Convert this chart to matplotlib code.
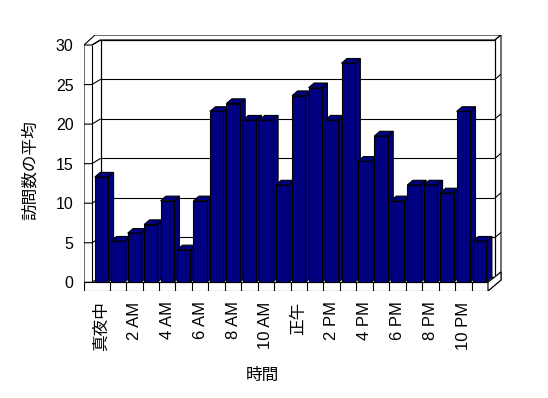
import matplotlib
matplotlib.use('Agg')
import matplotlib.pyplot as plt
from matplotlib.patches import Polygon, Rectangle

plt.rcParams['font.family'] = ['Liberation Sans', 'Noto Sans CJK JP', 'DejaVu Sans']

# ---- data ----
tick_labels = ['真夜中', '2 AM', '4 AM', '6 AM', '8 AM', '10 AM',
               '正午', '2 PM', '4 PM', '6 PM', '8 PM', '10 PM']
values = [13.3, 5.2, 6.2, 7.3, 10.3, 4.1, 10.3, 21.6, 22.6, 20.5, 20.5, 12.3,
          23.6, 24.6, 20.5, 27.7, 15.3, 18.5, 10.3, 12.3, 12.3, 11.3, 21.6, 5.2]
y_ticks = [0, 5, 10, 15, 20, 25, 30]
x_title = '時間'
y_title = '訪問数の平均'

# ---- geometry (pixels -> data) ----
W, H = 548, 398
S = 16.45      # px per category slot
U = 7.91       # px per value unit
X0 = 93.2      # px of slot 0 (front plane)
Y0 = 282.3     # px of value 0 (front plane)

def P(xp, yp):
    return ((xp - X0) / S, (Y0 - yp) / U)

left_px, right_px, top_px, bot_px = 84, 502, 35, 291

fig = plt.figure(figsize=(W / 100, H / 100), dpi=100)
ax = fig.add_axes([left_px / W, 1 - bot_px / H, (right_px - left_px) / W, (bot_px - top_px) / H])
ax.set_xlim(P(left_px, 0)[0], P(right_px, 0)[0])
ax.set_ylim(P(0, bot_px)[1], P(0, top_px)[1])
for s in ax.spines.values():
    s.set_visible(False)

LW = 0.8
K = 'black'

def line(pts, z=1, **kw):
    xs = [p[0] for p in pts]
    ys = [p[1] for p in pts]
    ax.plot(xs, ys, color=K, lw=LW, zorder=z, solid_capstyle='butt', **kw)

# back wall (front surface)
bwl, bwr = P(100.7, 0)[0], P(495, 0)[0]
wall_dy = 5.3 / U
ax.add_patch(Polygon([(bwl, wall_dy), (bwr, wall_dy), (bwr, 30 + wall_dy), (bwl, 30 + wall_dy)],
                     closed=True, facecolor='white', edgecolor=K, lw=LW, zorder=1))
lwi = P(92, 0)[0]       # left wall inner front edge
lwo = P(84, 0)[0]       # left wall outer edge
rwo = P(501, 0)[0]
for v in y_ticks:
    line([(bwl, v + wall_dy), (bwr, v + wall_dy)], z=1.1)
    line([(lwo, v), (lwi, v), (bwl, v + wall_dy)], z=1.1)
    line([(bwr, v + wall_dy), (rwo, v + wall_dy + 5.0 / U)], z=1.1)

# outer frame
line([P(84, 291), P(84, 45), P(95, 35), P(501, 35), P(501, 280), P(488, 291), P(84, 291)], z=1.2)
line([P(92, 45), P(100.7, 40), P(495, 40), P(501, 35)], z=1.2)
line([P(92, 45), P(92, 282)], z=1.2)
line([P(100.7, 40), P(100.7, 277)], z=1.2)
line([P(495, 40), P(495, 277)], z=1.2)

# floor
fy = (Y0 - 291) / U
ax.add_patch(Polygon([P(84, 291), P(488, 291), P(488, 282.3), P(84, 282.3)], closed=True,
                     facecolor='white', edgecolor=K, lw=LW, zorder=1.3))
ax.add_patch(Polygon([P(488, 291), P(501, 280), P(501, 272), P(488, 282.3)], closed=True,
                     facecolor='white', edgecolor=K, lw=LW, zorder=1.3))
for i in range(1, len(values)):
    line([(i, 0), (i, fy)], z=1.4)

# bars
bw = 0.81
ddx = 5.5 / S
ddy = 4.7 / U
navy = '#000080'
for i, v in enumerate(values):
    xl = i + (1 - bw) / 2
    xr = xl + bw
    z = 2 + i * 0.01
    ax.add_patch(Polygon([(xr, 0), (xr, v), (xr + ddx, v + ddy), (xr + ddx, ddy)], closed=True,
                         facecolor=navy, edgecolor=K, lw=LW, zorder=z))
    ax.add_patch(Polygon([(xl, v), (xr, v), (xr + ddx, v + ddy), (xl + ddx, v + ddy)], closed=True,
                         facecolor=navy, edgecolor=K, lw=LW, zorder=z))
    ax.add_patch(Rectangle((xl, 0), bw, v, facecolor=navy, edgecolor=K, lw=LW, zorder=z + 0.001))

# ticks
ax.set_yticks(y_ticks)
ax.set_yticklabels([str(t) for t in y_ticks], fontsize=11.5)
ax.tick_params(axis='y', length=0, pad=7.5)
ax.set_xticks([i + 0.5 for i in range(0, len(values), 2)])
ax.set_xticklabels(tick_labels, rotation=90, fontsize=12)
ax.tick_params(axis='x', length=0, pad=7.5)

fig.text(30 / W, 1 - 170 / H, y_title, rotation=90, ha='center', va='center', fontsize=12)
fig.text(262 / W, 1 - 375 / H, x_title, ha='center', va='center', fontsize=12)

fig.savefig('out.png', dpi=100, facecolor='white')
